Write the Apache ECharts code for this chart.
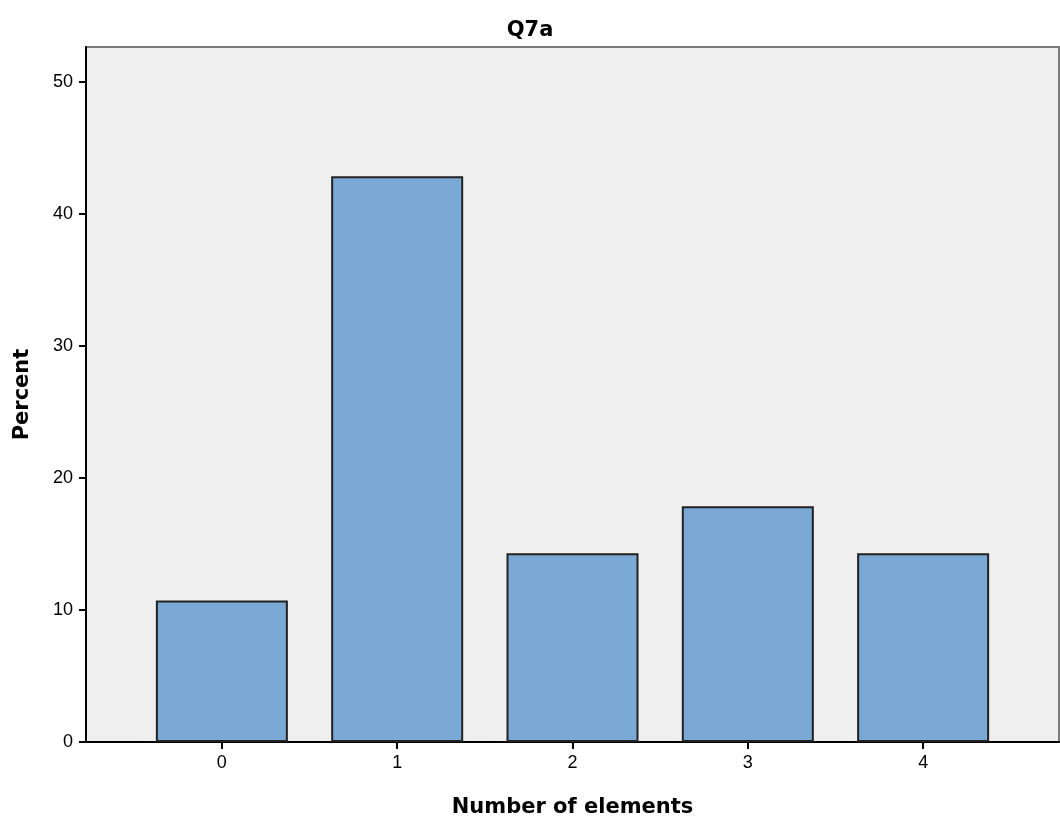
<!DOCTYPE html>
<html>
<head>
<meta charset="utf-8">
<script src="https://cdn.jsdelivr.net/npm/echarts@6/dist/echarts.min.js"></script>
<style>
  html, body { margin: 0; padding: 0; background: #ffffff; }
  #chart { width: 1060px; height: 820px; }
</style>
</head>
<body>
<div id="chart"></div>
<script>
// Data
const categories = ['0', '1', '2', '3', '4'];
const percentValues = [10.71, 42.86, 14.29, 17.86, 14.29];
const yTickValues = [0, 10, 20, 30, 40, 50];
const chartTitle = 'Q7a';
const xAxisTitle = 'Number of elements';
const yAxisTitle = 'Percent';

const xPositions = categories.map((c, i) => i);
const barData = percentValues.map((v, i) => [xPositions[i], v]);

const chart = echarts.init(document.getElementById('chart'), null, { renderer: 'canvas' });
const tickFont = '"Liberation Sans", Arial, sans-serif';
const titleFont = '"DejaVu Sans", Verdana, sans-serif';

chart.setOption({
  animation: false,
  backgroundColor: '#ffffff',
  title: {
    text: chartTitle,
    left: 'center',
    top: 15,
    textStyle: { fontFamily: titleFont, fontSize: 21, fontWeight: 'bold', color: '#000' }
  },
  grid: {
    left: 86, right: 1, top: 47, bottom: 78,
    containLabel: false,
    outerBoundsMode: 'none',
    show: true,
    backgroundColor: '#efefef',
    borderColor: '#7a7a7a',
    borderWidth: 2
  },
  xAxis: {
    type: 'value',
    min: -0.775,
    max: 4.775,
    splitLine: { show: false },
    axisLine: { show: true, onZero: false, lineStyle: { color: '#000', width: 2 } },
    axisTick: { show: true, customValues: xPositions, length: 7, lineStyle: { color: '#000', width: 2 } },
    axisLabel: {
      customValues: xPositions,
      formatter: (v) => categories[Math.round(v)],
      fontFamily: tickFont, fontSize: 18, color: '#000', margin: 12
    },
    name: xAxisTitle,
    nameLocation: 'middle',
    nameGap: 55,
    nameTextStyle: { fontFamily: titleFont, fontSize: 21, fontWeight: 'bold', color: '#000' }
  },
  yAxis: {
    type: 'value',
    min: 0,
    max: 52.65,
    splitLine: { show: false },
    axisLine: { show: true, onZero: false, lineStyle: { color: '#000', width: 2 } },
    axisTick: { show: true, customValues: yTickValues, length: 7, lineStyle: { color: '#000', width: 2 } },
    axisLabel: {
      customValues: yTickValues,
      fontFamily: tickFont, fontSize: 18, color: '#000', margin: 13
    },
    name: yAxisTitle,
    nameLocation: 'middle',
    nameGap: 53,
    nameRotate: 90,
    nameTextStyle: { fontFamily: titleFont, fontSize: 21, fontWeight: 'bold', color: '#000' }
  },
  series: [{
    type: 'bar',
    data: barData,
    barWidth: 132,
    itemStyle: { color: '#7ba9d6', borderColor: '#222222', borderWidth: 2 }
  }]
});
</script>
</body>
</html>
